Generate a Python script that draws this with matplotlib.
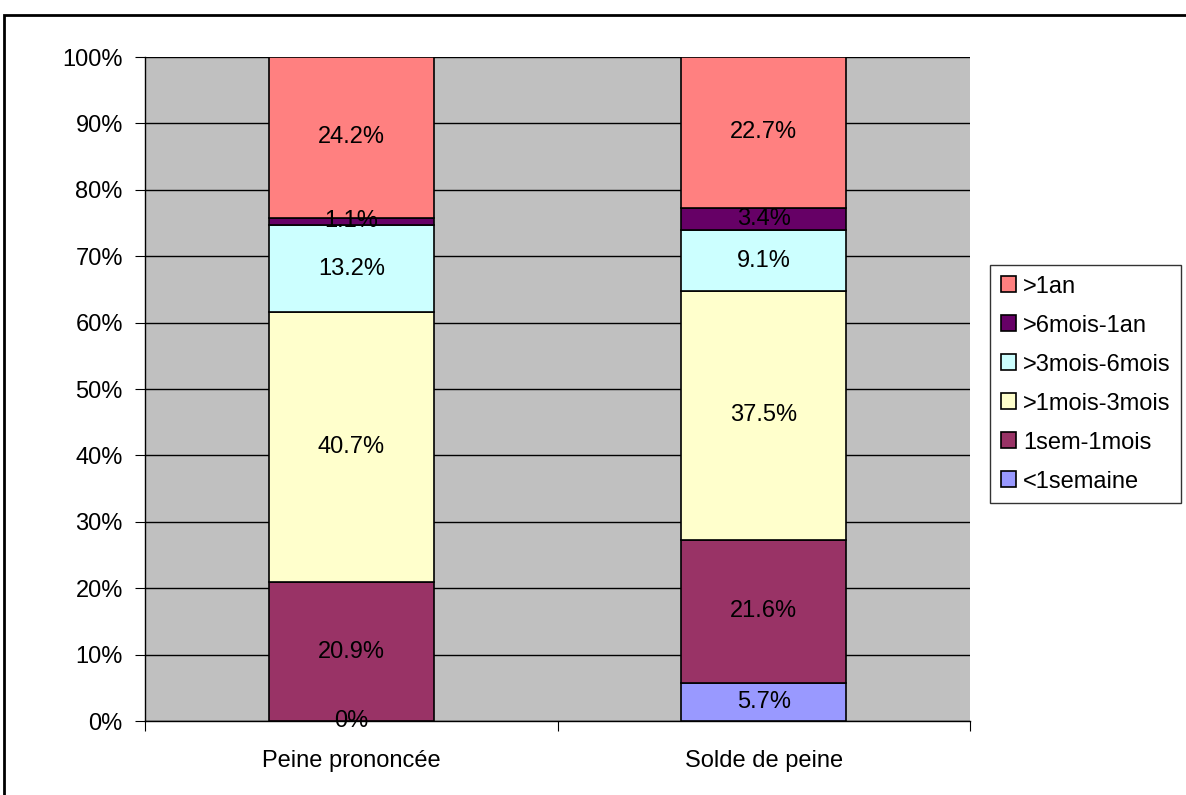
import numpy as np
import matplotlib.pyplot as plt
from matplotlib.patches import Rectangle

plt.rcParams['font.family'] = ['Liberation Sans', 'DejaVu Sans']

### Data
categories = ['Peine prononcée', 'Solde de peine']
series = ['<1semaine', '1sem-1mois', '>1mois-3mois', '>3mois-6mois', '>6mois-1an', '>1an']
values = {
    '<1semaine':    [0.0, 5.7],
    '1sem-1mois':   [20.9, 21.6],
    '>1mois-3mois': [40.7, 37.5],
    '>3mois-6mois': [13.2, 9.1],
    '>6mois-1an':   [1.1, 3.4],
    '>1an':         [24.2, 22.7],
}
colors = ['#9999FF', '#993366', '#FFFFCC', '#CCFFFF', '#660066', '#FF8080']
yticks = np.arange(0, 101, 10)

FS = 17

### Figure
fig = plt.figure(figsize=(11.86, 7.95), dpi=100)
fig.patches.append(Rectangle((4 / 1186, -0.1), 1.2, 1 - 15 / 795 + 0.1,
                             transform=fig.transFigure, fill=False,
                             edgecolor='black', linewidth=2, clip_on=False))

ax = fig.add_axes([145 / 1186, 1 - 721 / 795, 825 / 1186, 664 / 795])
ax.set_facecolor('#C0C0C0')

### Normalise to 100% stacked
data = np.array([values[s] for s in series])
totals = data.sum(axis=0)
pct = data / totals * 100

x = np.arange(len(categories)) + 0.5
bottom = np.zeros(len(categories))
for i, s in enumerate(series):
    ax.bar(x, pct[i], 0.4, bottom=bottom, color=colors[i], edgecolor='black',
           linewidth=1.2, label=s, zorder=3)
    for j in range(len(categories)):
        raw = data[i, j]
        if raw == 0:
            if j == 1:
                continue
            txt = '0%'
        else:
            txt = f'{raw:.1f}%'
        ax.text(x[j], bottom[j] + pct[i, j] / 2, txt, ha='center', va='center',
                fontsize=FS, zorder=4)
    bottom += pct[i]

### Axes
ax.set_xlim(0, 2)
ax.set_ylim(0, 100)
ax.set_yticks(yticks)
ax.set_yticklabels([f'{v}%' for v in yticks], fontsize=FS)
ax.yaxis.grid(True, color='black', linewidth=1, zorder=1)
ax.set_axisbelow(True)
ax.set_xticks([0, 1, 2])
ax.set_xticklabels([])
ax.set_xticks(x, minor=True)
ax.set_xticklabels(categories, minor=True, fontsize=FS)
ax.tick_params(axis='x', which='major', length=7, direction='out', color='black')
ax.tick_params(axis='x', which='minor', length=0, pad=21)
ax.tick_params(axis='y', length=7, direction='out', pad=9)
ax.spines['top'].set_visible(False)
ax.spines['right'].set_visible(False)
ax.spines['left'].set_linewidth(1)
ax.spines['bottom'].set_linewidth(1)

### Legend (reverse order, top = >1an)
handles, labels = ax.get_legend_handles_labels()
leg = fig.legend(handles[::-1], labels[::-1], loc='upper left',
                 bbox_to_anchor=(990 / 1186, 1 - 265 / 795), fontsize=FS,
                 frameon=True, fancybox=False, edgecolor='black',
                 handlelength=0.65, handleheight=0.65, handletextpad=0.3,
                 labelspacing=0.72, borderpad=0.45, borderaxespad=0)
leg.get_frame().set_linewidth(1)

fig.savefig('out.png', dpi=100)
